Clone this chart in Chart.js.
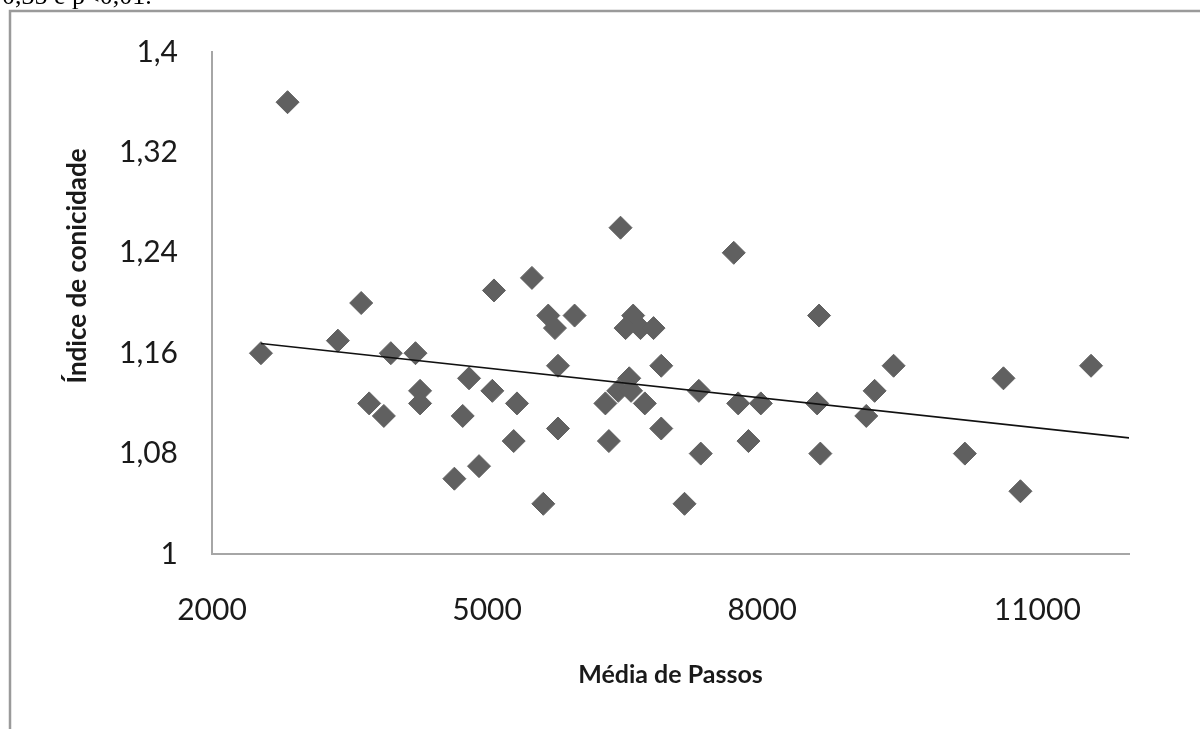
<!DOCTYPE html>
<html>
<head>
<meta charset="utf-8">
<script src="https://cdn.jsdelivr.net/npm/chart.js@4/dist/chart.umd.min.js"></script>
<style>
  html, body { margin: 0; padding: 0; background: #fff; }
  #wrap { position: relative; width: 1200px; height: 729px; overflow: hidden; }
  canvas { position: absolute; left: 0; top: 0; }
</style>
</head>
<body>
<div id="wrap"><canvas id="c" width="1200" height="729"></canvas></div>
<script>
// ---- Data ----
const stepsX = [
  2824, 3627, 2534, 3373, 3950, 4219, 4269, 4269, 3714, 3874,
  6455, 5075, 5489, 5667, 5740, 5954, 6593, 6510, 6673, 6815,
  5773, 6899, 4803, 5057, 5326, 4734, 6550, 6430, 6570, 6290,
  6720, 5773, 6899, 5290, 6328, 4912, 4643, 5613,
  7690, 8620, 9433, 7309, 7738, 7985, 8599, 9226, 9135, 7330,
  7850, 8634, 7153,
  10631, 11586, 10210, 10816
];
const conicY = [
  1.36, 1.20, 1.16, 1.17, 1.16, 1.16, 1.13, 1.12, 1.12, 1.11,
  1.26, 1.21, 1.22, 1.19, 1.18, 1.19, 1.19, 1.18, 1.18, 1.18,
  1.15, 1.15, 1.14, 1.13, 1.12, 1.11, 1.14, 1.13, 1.13, 1.12,
  1.12, 1.10, 1.10, 1.09, 1.09, 1.07, 1.06, 1.04,
  1.24, 1.19, 1.15, 1.13, 1.12, 1.12, 1.12, 1.13, 1.11, 1.08,
  1.09, 1.08, 1.04,
  1.14, 1.15, 1.08, 1.05
];
const trendX = [2534, 12000];
const trendY = [1.1677, 1.0925];
const xTicks = [2000, 5000, 8000, 11000];
const yTicks = [1, 1.08, 1.16, 1.24, 1.32, 1.4];
const xTitle = "Média de Passos";
const yTitle = "Índice de conicidade";
const caption = "0,35 e p<0,01.";

const points = stepsX.map((x, i) => ({ x: x, y: conicY[i] }));
const trend = trendX.map((x, i) => ({ x: x, y: trendY[i] }));

const FONT = "Lato, 'Open Sans', sans-serif";

const decor = {
  id: 'decor',
  beforeDraw(chart) {
    const ctx = chart.ctx;
    ctx.save();
    ctx.fillStyle = '#fff';
    ctx.fillRect(0, 0, chart.width, chart.height);
    // outer frame (left and top)
    ctx.strokeStyle = '#9a9a9a';
    ctx.lineWidth = 2.5;
    ctx.beginPath();
    ctx.moveTo(10, 729);
    ctx.lineTo(10, 11);
    ctx.lineTo(1200, 11);
    ctx.stroke();
    // caption cut off at the top
    ctx.fillStyle = '#000';
    ctx.font = "26px 'Liberation Serif', serif";
    ctx.textBaseline = 'alphabetic';
    ctx.textAlign = 'left';
    ctx.fillText(caption, 2, 4);
    ctx.restore();
  },
  afterDraw(chart) {
    const ctx = chart.ctx;
    ctx.save();
    ctx.fillStyle = '#1a1a1a';
    ctx.font = "bold 25px " + FONT;
    ctx.textAlign = 'center';
    ctx.textBaseline = 'middle';
    const area = chart.chartArea;
    ctx.fillText(xTitle, (area.left + area.right) / 2, 675);
    ctx.font = "bold 26px " + FONT;
    ctx.translate(78, 266);
    ctx.rotate(-Math.PI / 2);
    ctx.fillText(yTitle, 0, 0);
    ctx.restore();
  }
};

new Chart(document.getElementById('c'), {
  type: 'scatter',
  data: {
    datasets: [
      {
        type: 'line',
        data: trend,
        borderColor: '#111',
        borderWidth: 1.6,
        pointRadius: 0,
        fill: false,
        tension: 0
      },
      {
        data: points,
        pointStyle: 'rectRot',
        pointRadius: 11.5,
        pointBackgroundColor: '#606060',
        pointBorderColor: '#606060',
        pointBorderWidth: 1
      }
    ]
  },
  options: {
    responsive: false,
    animation: false,
    devicePixelRatio: 1,
    layout: { padding: { top: 48, right: 71, left: 0, bottom: 0 } },
    plugins: { legend: { display: false }, tooltip: { enabled: false } },
    scales: {
      x: {
        type: 'linear',
        min: 2000,
        max: 12000,
        afterBuildTicks(s) { s.ticks = xTicks.map(v => ({ value: v })); },
        afterFit(s) { s.height = 175; },
        grid: { display: false, drawTicks: false },
        border: { display: true, color: '#a6a6a6', width: 2 },
        ticks: {
          color: '#1a1a1a',
          font: { family: FONT, size: 30 },
          padding: 38,
          maxRotation: 0,
          autoSkip: false,
          callback: v => String(v)
        }
      },
      y: {
        type: 'linear',
        min: 1,
        max: 1.4,
        afterBuildTicks(s) { s.ticks = yTicks.map(v => ({ value: v })); },
        afterFit(s) { s.width = 212; },
        grid: { display: false, drawTicks: false },
        border: { display: true, color: '#a6a6a6', width: 2 },
        ticks: {
          color: '#1a1a1a',
          font: { family: FONT, size: 30 },
          padding: 34,
          autoSkip: false,
          callback: v => String(v).replace('.', ',')
        }
      }
    }
  },
  plugins: [decor]
});
</script>
</body>
</html>
